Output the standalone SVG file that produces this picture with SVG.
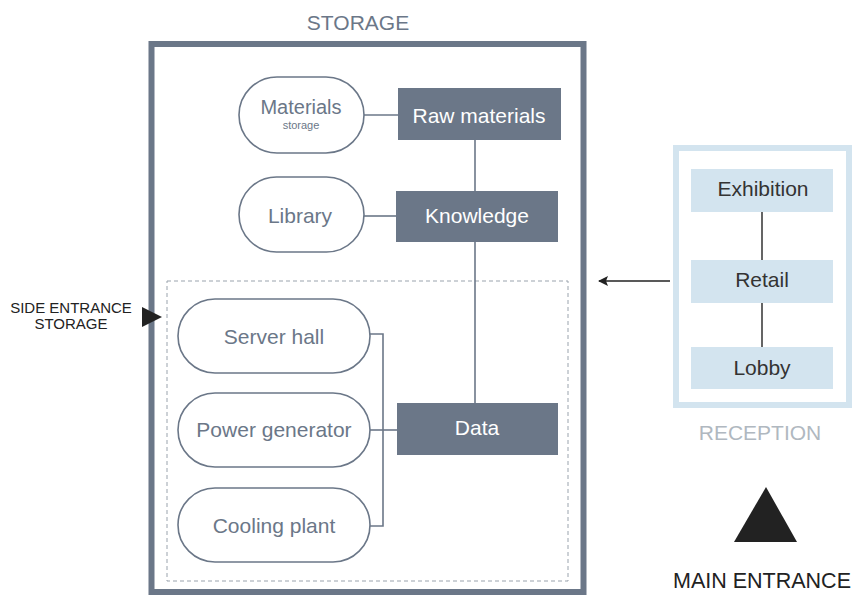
<svg xmlns="http://www.w3.org/2000/svg" width="853" height="595" viewBox="0 0 853 595">
<style>
text{font-family:"Liberation Sans",Arial,sans-serif}
.pill{fill:#fff;stroke:#6b7788;stroke-width:1.6}
.pt{fill:#6b7788;font-size:21px;text-anchor:middle}
.st{fill:#6b7788;font-size:11px;text-anchor:middle}
.box{fill:#6b7788}
.bt{fill:#fff;font-size:21px;text-anchor:middle}
.rbox{fill:#d3e4ef}
.rt{fill:#333;font-size:21px;text-anchor:middle}
.ln{stroke:#6b7788;stroke-width:1.6;fill:none}
.rl{stroke:#333;stroke-width:1.5;fill:none}
</style>
<defs>
<marker id="ah" markerWidth="10" markerHeight="10" refX="9" refY="5" orient="auto" markerUnits="userSpaceOnUse"><path d="M0,0 L10,5 L0,10 L2,5 Z" fill="#222"/></marker>
</defs>
<rect width="853" height="595" fill="#fff"/>
<g id="storage">
<rect x="151.5" y="44" width="432" height="548" fill="none" stroke="#6b7788" stroke-width="6"/>
<text x="358" y="30" font-size="21" fill="#6b7788" text-anchor="middle">STORAGE</text>
<rect x="167" y="281" width="401" height="300" fill="none" stroke="#9aa3ad" stroke-width="1" stroke-dasharray="4 3"/>
</g>
<g id="connectors">
<path class="ln" d="M364,115 H398"/>
<path class="ln" d="M364,216 H396"/>
<path class="ln" d="M475,140 V403"/>
<path class="ln" d="M370,334 H383 V526 H370"/>
<path class="ln" d="M370,430 H397"/>
<path class="rl" d="M762,212 V260 M762,303 V347"/>
<path d="M670,281 H599" stroke="#222" stroke-width="1.5" marker-end="url(#ah)"/>
</g>
<g id="materials"><rect class="pill" x="239" y="77" width="125" height="76" rx="38"/><text class="pt" x="301" y="114" style="font-size:20px">Materials</text><text class="st" x="301" y="129">storage</text></g>
<g id="raw-materials"><rect class="box" x="398" y="88" width="163" height="52"/><text class="bt" x="479" y="123">Raw materials</text></g>
<g id="library"><rect class="pill" x="239" y="177" width="125" height="75" rx="37.5"/><text class="pt" x="300" y="223">Library</text></g>
<g id="knowledge"><rect class="box" x="396" y="191" width="162" height="51"/><text class="bt" x="477" y="223">Knowledge</text></g>
<g id="server-hall"><rect class="pill" x="178" y="299" width="192" height="74" rx="37"/><text class="pt" x="274" y="344">Server hall</text></g>
<g id="power-generator"><rect class="pill" x="178" y="393" width="192" height="74" rx="37"/><text class="pt" x="274" y="437">Power generator</text></g>
<g id="cooling-plant"><rect class="pill" x="178" y="488" width="192" height="74" rx="37"/><text class="pt" x="274" y="533">Cooling plant</text></g>
<g id="data"><rect class="box" x="397" y="403" width="161" height="52"/><text class="bt" x="477" y="435">Data</text></g>
<g id="side-entrance">
<path d="M142,307 L162,317 L142,327 Z" fill="#222"/>
<text x="71" y="313" font-size="15" fill="#222" text-anchor="middle">SIDE ENTRANCE</text>
<text x="71" y="329" font-size="15" fill="#222" text-anchor="middle">STORAGE</text>
</g>
<g id="reception">
<rect x="676" y="148" width="173" height="257" fill="none" stroke="#d3e4ef" stroke-width="6"/>
<text x="760" y="440" font-size="21" fill="#b0b8c0" text-anchor="middle">RECEPTION</text>
</g>
<g id="exhibition"><rect class="rbox" x="691" y="169" width="142" height="43"/><text class="rt" x="763" y="196">Exhibition</text></g>
<g id="retail"><rect class="rbox" x="691" y="260" width="142" height="43"/><text class="rt" x="762" y="287">Retail</text></g>
<g id="lobby"><rect class="rbox" x="691" y="347" width="142" height="42"/><text class="rt" x="762" y="375">Lobby</text></g>
<g id="main-entrance">
<path d="M766,487 L797,542 L734,542 Z" fill="#222"/>
<text x="673" y="588" font-size="21.5" fill="#222">MAIN ENTRANCE</text>
</g>
</svg>
